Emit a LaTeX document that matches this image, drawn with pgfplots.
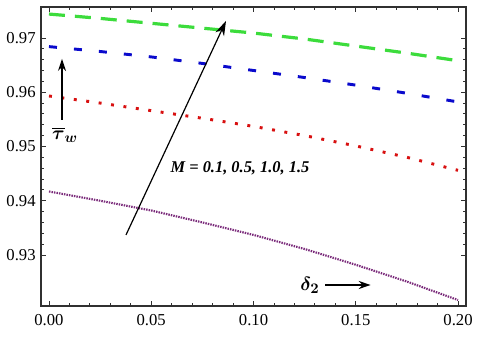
\documentclass[border=0pt]{standalone}
\usepackage{fontspec}
\setmainfont{Liberation Serif}
\usepackage{amsmath}
\usepackage{pgfplots}
\pgfplotsset{compat=1.18}
\usetikzlibrary{arrows.meta, calc}
\definecolor{cgreen}{HTML}{3CDC3C}
\definecolor{cblue}{HTML}{0A0ACC}
\definecolor{cred}{HTML}{D81010}
\definecolor{cpurple}{HTML}{7A2A7A}
\definecolor{frame}{HTML}{303030}

\pgfplotstableread{
d     m01     m05     m10     m15
0.000 0.9417  0.9593  0.9684  0.9744
0.025 0.9400  0.9580  0.9675  0.9736
0.050 0.9382  0.9566  0.9665  0.9727
0.075 0.9360  0.9552  0.9653  0.9718
0.100 0.9337  0.9537  0.9640  0.9709
0.125 0.9311  0.9520  0.9627  0.9698
0.150 0.9282  0.9501  0.9613  0.9685
0.175 0.9251  0.9480  0.9598  0.9672
0.200 0.9217  0.9456  0.9582  0.9658
}\tauw

\begin{document}
\begin{tikzpicture}
  \begin{axis}[
      scale only axis,
      width=318.75pt, height=224.25pt,
      xmin=-0.0039, xmax=0.2039,
      ymin=0.9206, ymax=0.9757,
      xtick={0,0.05,...,0.2},
      ytick={0.93,0.94,0.95,0.96,0.97},
      minor x tick num=4,
      minor y tick num=4,
      tick align=inside,
      major tick length=3.5pt,
      minor tick length=2pt,
      axis line style={frame, line width=0.8pt},
      tick style={frame, line width=0.6pt},
      /pgf/number format/assume math mode=true,
      /pgf/number format/fixed,
      /pgf/number format/fixed zerofill,
      /pgf/number format/precision=2,
      xticklabel style={font=\fontsize{12.5}{14}\selectfont, yshift=-3pt},
      yticklabel style={font=\fontsize{12.5}{14}\selectfont, xshift=-0.5pt},
      scaled ticks=false,
      clip=false,
    ]
    \coordinate (sw) at (rel axis cs:0,0);
    \coordinate (ne) at (rel axis cs:1,1);

    \addplot[cpurple, line width=1.6pt, dash pattern=on 1.1pt off 0.8pt] table[x=d, y=m01] {\tauw};
    \addplot[cred, line width=2.2pt, dash pattern=on 2.2pt off 7.2pt] table[x=d, y=m05] {\tauw};
    \addplot[cblue, line width=2.2pt, dash pattern=on 6pt off 12.8pt] table[x=d, y=m10] {\tauw};
    \addplot[cgreen, line width=2.4pt, dash pattern=on 12pt off 7.5pt] table[x=d, y=m15] {\tauw};

    \draw[black, line width=1.2pt, -{Stealth[length=9pt, width=6pt]}]
      (axis cs:0.00636,0.95489) -- (axis cs:0.00636,0.96613);
    \node[font=\fontsize{15}{17}\selectfont] at (axis cs:0.0078,0.95212)
      {$\boldsymbol{\overline{\tau}_{w}}$};

    \draw[black, line width=0.9pt, -{Stealth[length=11pt, width=7pt]}]
      (axis cs:0.03765,0.93369) -- (axis cs:0.08655,0.97313);
    \node[font=\fontsize{12.3}{14}\selectfont\bfseries\itshape] at (axis cs:0.0934,0.9459)
      {M = 0.1, 0.5, 1.0, 1.5};

    \node[font=\fontsize{15}{17}\selectfont] at (axis cs:0.1276,0.92447)
      {$\boldsymbol{\delta_{2}}$};
    \draw[black, line width=1.2pt, -{Stealth[length=9pt, width=6pt]}]
      (axis cs:0.1352,0.92447) -- (axis cs:0.1573,0.92447);
  \end{axis}
  \pgfresetboundingbox
  \path ($(sw)+(-30.75pt,-23.25pt)$) rectangle ($(ne)+(10.5pt,5.25pt)$);
\end{tikzpicture}
\end{document}
